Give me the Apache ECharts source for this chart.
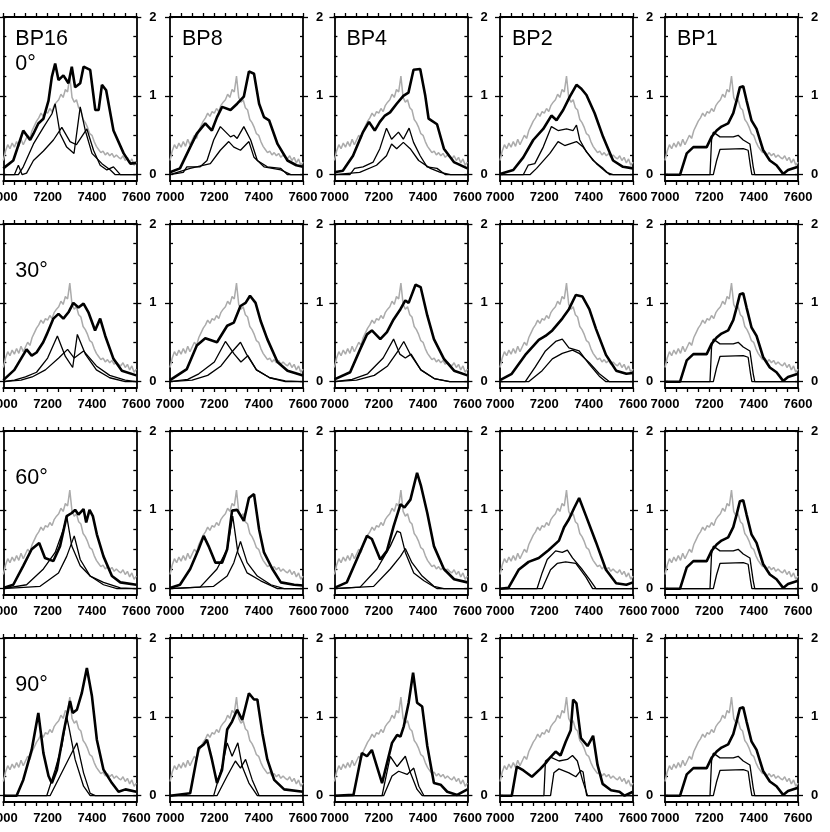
<!DOCTYPE html>
<html><head><meta charset="utf-8">
<script src="https://cdn.jsdelivr.net/npm/echarts@6/dist/echarts.min.js"></script>
<style>html,body{margin:0;padding:0;background:#fff}#c{width:830px;height:832px}</style>
</head><body><div id="c"></div>
<script>
// ---------- DATA ----------
const colTitles = ['BP16', 'BP8', 'BP4', 'BP2', 'BP1'];
const rowTitles = ['0°', '30°', '60°', '90°'];
const xTickLabels = [7000, 7200, 7400, 7600];
const yTickLabels = [0, 1, 2];

const grayWave = [7000,7010,7020,7030,7040,7050,7060,7070,7080,7090,7100,7110,7120,7130,7140,7150,7160,7170,7180,7190,7200,7210,7220,7230,7240,7250,7260,7270,7280,7290,7300,7310,7320,7330,7340,7350,7360,7370,7380,7390,7400,7410,7420,7430,7440,7450,7460,7470,7480,7490,7500,7510,7520,7530,7540,7550,7560,7570,7580,7590,7600];
const grayFlux = [0.18,0.30,0.38,0.33,0.40,0.35,0.42,0.36,0.45,0.38,0.44,0.50,0.46,0.56,0.62,0.68,0.72,0.78,0.74,0.80,0.78,0.84,0.80,0.88,0.92,0.95,1.02,0.98,1.08,1.05,1.25,0.98,0.92,0.95,0.85,0.82,0.70,0.66,0.60,0.52,0.50,0.42,0.36,0.32,0.28,0.30,0.25,0.28,0.24,0.27,0.22,0.25,0.22,0.20,0.24,0.18,0.22,0.15,0.20,0.12,0.16];

// Row 1 (0°)
const bp16_0_thick = [[7000,0.08],[7045,0.18],[7090,0.56],[7121,0.44],[7136,0.52],[7158,0.65],[7181,0.71],[7204,0.94],[7219,1.24],[7234,1.41],[7249,1.2],[7271,1.26],[7294,1.16],[7309,1.37],[7324,1.11],[7347,1.16],[7362,1.37],[7392,1.33],[7415,0.82],[7430,0.82],[7445,1.14],[7464,1.07],[7497,0.56],[7543,0.27],[7573,0.14],[7600,0.15]];
const bp16_0_thinA = [[7000,0],[7068,0],[7090,0.1],[7136,0.39],[7181,0.6],[7219,0.77],[7234,0.9],[7256,0.52],[7286,0.35],[7319,0.27],[7347,0.86],[7370,0.56],[7400,0.27],[7445,0.14],[7483,0.06],[7505,0],[7600,0]];
const bp16_0_thinB = [[7000,0],[7050,0],[7068,0.12],[7085,0],[7105,0.02],[7136,0.18],[7181,0.3],[7226,0.44],[7264,0.6],[7301,0.42],[7330,0.38],[7377,0.58],[7407,0.31],[7437,0.12],[7467,0.06],[7497,0.1],[7528,0],[7600,0]];
const bp8_0_thick = [[7000,0.03],[7045,0.08],[7091,0.35],[7121,0.52],[7159,0.65],[7189,0.56],[7212,0.73],[7235,0.86],[7273,0.82],[7303,0.9],[7333,0.99],[7356,1.31],[7379,1.28],[7402,0.9],[7424,0.73],[7447,0.69],[7485,0.39],[7530,0.18],[7570,0.12],[7600,0.1]];
const bp8_0_thinA = [[7000,0],[7060,0.03],[7076,0.1],[7136,0.1],[7167,0.18],[7197,0.44],[7227,0.61],[7273,0.48],[7288,0.5],[7303,0.46],[7333,0.61],[7364,0.44],[7394,0.18],[7439,0.1],[7500,0.08],[7530,0],[7600,0]];
const bp8_0_thinB = [[7000,0],[7091,0.08],[7182,0.14],[7227,0.31],[7265,0.42],[7288,0.35],[7318,0.31],[7356,0.42],[7379,0.22],[7424,0.1],[7500,0.06],[7545,0],[7600,0]];
const bp4_0_thick = [[7000,0.03],[7038,0.05],[7084,0.24],[7129,0.54],[7156,0.67],[7182,0.56],[7205,0.67],[7228,0.75],[7251,0.79],[7281,0.9],[7311,1.0],[7334,1.04],[7357,1.33],[7387,1.34],[7410,1.0],[7425,0.71],[7463,0.64],[7494,0.33],[7539,0.16],[7600,0.08]];
const bp4_0_thinA = [[7000,0],[7070,0],[7091,0.08],[7129,0.1],[7175,0.16],[7205,0.33],[7235,0.59],[7258,0.45],[7289,0.54],[7311,0.45],[7337,0.59],[7357,0.41],[7387,0.24],[7418,0.1],[7463,0.08],[7501,0],[7600,0]];
const bp4_0_thinB = [[7000,0],[7114,0.03],[7190,0.12],[7235,0.24],[7258,0.39],[7281,0.33],[7311,0.41],[7342,0.33],[7380,0.18],[7433,0.08],[7478,0.03],[7524,0],[7600,0]];
const bp2_0_thick = [[7000,0.01],[7060,0.06],[7105,0.22],[7150,0.44],[7195,0.58],[7232,0.75],[7255,0.69],[7285,0.82],[7315,0.99],[7345,1.14],[7367,1.09],[7390,1.01],[7427,0.78],[7465,0.48],[7510,0.18],[7555,0.1],[7600,0.08]];
const bp2_0_thinA = [[7000,0],[7105,0],[7127,0.12],[7157,0.14],[7195,0.35],[7232,0.61],[7262,0.56],[7300,0.58],[7330,0.56],[7345,0.63],[7360,0.44],[7390,0.29],[7435,0.14],[7480,0.03],[7510,0],[7600,0]];
const bp2_0_thinB = [[7000,0],[7135,0],[7165,0.08],[7225,0.27],[7262,0.42],[7292,0.37],[7345,0.42],[7375,0.35],[7420,0.18],[7465,0.08],[7495,0],[7600,0]];
// BP1 (same at all angles)
const bp1_thick = [[7000,0],[7068,0],[7098,0.27],[7128,0.35],[7188,0.35],[7210,0.48],[7233,0.56],[7255,0.61],[7285,0.65],[7308,0.78],[7323,0.94],[7338,1.11],[7353,1.12],[7368,0.94],[7390,0.69],[7413,0.58],[7443,0.31],[7473,0.18],[7503,0.12],[7533,0.01],[7555,0.06],[7600,0.1]];
const bp1_thinA = [[7000,0],[7203,0],[7210,0.44],[7218,0.54],[7248,0.48],[7308,0.48],[7330,0.5],[7353,0.44],[7383,0.39],[7398,0.1],[7405,0],[7600,0]];
const bp1_thinB = [[7000,0],[7218,0],[7233,0.18],[7248,0.32],[7353,0.33],[7375,0.31],[7386,0.1],[7392,0],[7600,0]];

// Row 2 (30°)
const bp16_30_thick = [[7000,0.02],[7050,0.15],[7105,0.41],[7128,0.33],[7150,0.37],[7180,0.5],[7196,0.6],[7226,0.8],[7249,0.86],[7271,0.8],[7294,0.88],[7316,1.0],[7339,0.94],[7362,0.99],[7384,0.88],[7414,0.65],[7437,0.8],[7460,0.58],[7497,0.29],[7535,0.14],[7600,0.08]];
const bp16_30_thinA = [[7000,0],[7050,0.02],[7100,0.06],[7150,0.12],[7200,0.3],[7244,0.58],[7280,0.32],[7313,0.18],[7334,0.6],[7370,0.35],[7420,0.15],[7480,0.05],[7550,0],[7600,0]];
const bp16_30_thinB = [[7000,0],[7080,0.02],[7130,0.06],[7190,0.15],[7250,0.3],[7290,0.41],[7320,0.3],[7362,0.39],[7420,0.2],[7480,0.08],[7550,0.02],[7600,0]];
const bp8_30_thick = [[7000,0.02],[7076,0.16],[7121,0.46],[7159,0.55],[7212,0.5],[7258,0.71],[7288,0.75],[7318,0.96],[7341,1.0],[7361,1.09],[7386,1.0],[7409,0.77],[7439,0.54],[7485,0.25],[7530,0.14],[7600,0.08]];
const bp8_30_thinA = [[7000,0],[7080,0.03],[7130,0.1],[7200,0.25],[7250,0.51],[7290,0.35],[7320,0.25],[7351,0.33],[7390,0.15],[7450,0.05],[7520,0],[7600,0]];
const bp8_30_thinB = [[7000,0],[7100,0.02],[7170,0.08],[7230,0.2],[7280,0.38],[7318,0.5],[7345,0.35],[7390,0.15],[7450,0.05],[7520,0.01],[7600,0]];
const bp4_30_thick = [[7000,0.03],[7071,0.12],[7116,0.41],[7147,0.6],[7169,0.65],[7207,0.54],[7237,0.63],[7267,0.79],[7298,0.92],[7320,1.03],[7335,1.0],[7366,1.23],[7389,1.2],[7419,0.84],[7449,0.54],[7494,0.29],[7540,0.14],[7600,0.08]];
const bp4_30_thinA = [[7000,0],[7080,0.03],[7150,0.1],[7220,0.3],[7267,0.54],[7295,0.35],[7320,0.3],[7346,0.35],[7390,0.15],[7450,0.04],[7520,0],[7600,0]];
const bp4_30_thinB = [[7000,0],[7100,0.02],[7180,0.08],[7240,0.2],[7285,0.38],[7313,0.51],[7340,0.36],[7390,0.15],[7450,0.04],[7520,0],[7600,0]];
const bp2_30_thick = [[7000,0.02],[7053,0.1],[7114,0.34],[7175,0.53],[7205,0.58],[7236,0.65],[7281,0.8],[7311,0.92],[7342,1.1],[7372,1.08],[7403,0.92],[7433,0.67],[7478,0.34],[7524,0.14],[7570,0.1],[7600,0.11]];
const bp2_30_thinA = [[7000,0],[7114,0],[7160,0.19],[7205,0.39],[7251,0.51],[7281,0.54],[7311,0.43],[7357,0.39],[7403,0.22],[7448,0.07],[7478,0],[7600,0]];
const bp2_30_thinB = [[7000,0],[7129,0],[7190,0.14],[7236,0.29],[7281,0.36],[7327,0.4],[7357,0.36],[7403,0.24],[7448,0.1],[7494,0],[7600,0]];

// Row 3 (60°)
const bp16_60_thick = [[7000,0.01],[7045,0.05],[7090,0.29],[7128,0.5],[7162,0.58],[7188,0.39],[7226,0.35],[7256,0.54],[7286,0.92],[7309,0.96],[7324,1.0],[7339,0.94],[7362,1.01],[7374,0.84],[7389,1.0],[7404,0.92],[7422,0.69],[7452,0.41],[7490,0.16],[7528,0.08],[7600,0.05]];
const bp16_60_thinA = [[7000,0],[7105,0.05],[7181,0.25],[7234,0.46],[7271,0.75],[7286,0.92],[7309,0.54],[7347,0.29],[7392,0.16],[7452,0.08],[7528,0.01],[7600,0]];
const bp16_60_thinB = [[7000,0],[7166,0.03],[7249,0.2],[7286,0.41],[7320,0.67],[7347,0.37],[7392,0.16],[7452,0.05],[7513,0],[7600,0]];
const bp8_60_thick = [[7000,0.01],[7045,0.05],[7091,0.25],[7129,0.5],[7152,0.67],[7174,0.54],[7205,0.33],[7235,0.33],[7258,0.5],[7280,0.99],[7303,1.0],[7333,0.86],[7356,1.15],[7379,1.2],[7402,0.75],[7424,0.46],[7462,0.25],[7500,0.08],[7560,0.05],[7600,0.04]];
const bp8_60_thinA = [[7000,0],[7136,0.02],[7212,0.25],[7258,0.5],[7283,0.92],[7306,0.46],[7348,0.2],[7409,0.1],[7485,0],[7600,0]];
const bp8_60_thinB = [[7000,0],[7197,0.03],[7258,0.16],[7288,0.33],[7318,0.6],[7348,0.33],[7394,0.16],[7455,0.05],[7515,0],[7600,0]];
const bp4_60_thick = [[7000,0.01],[7056,0.08],[7101,0.37],[7147,0.67],[7169,0.63],[7207,0.37],[7237,0.48],[7267,0.79],[7298,1.07],[7316,1.03],[7343,1.13],[7373,1.47],[7391,1.3],[7419,0.96],[7449,0.54],[7494,0.25],[7540,0.12],[7600,0.08]];
const bp4_60_thinA = [[7000,0],[7116,0.02],[7192,0.25],[7252,0.54],[7283,0.73],[7298,0.71],[7320,0.46],[7358,0.2],[7404,0.1],[7464,0],[7600,0]];
const bp4_60_thinB = [[7000,0],[7177,0.03],[7252,0.25],[7298,0.41],[7320,0.51],[7350,0.33],[7396,0.16],[7449,0.03],[7494,0],[7600,0]];
const bp2_60_thick = [[7000,0],[7038,0.01],[7084,0.24],[7129,0.34],[7175,0.39],[7220,0.49],[7266,0.61],[7289,0.78],[7311,0.88],[7334,1.02],[7357,1.15],[7387,0.93],[7433,0.59],[7478,0.24],[7524,0.07],[7570,0.05],[7600,0.08]];
const bp2_60_thinA = [[7000,0],[7167,0],[7190,0.2],[7213,0.37],[7251,0.48],[7281,0.46],[7304,0.49],[7327,0.39],[7372,0.24],[7403,0.12],[7433,0],[7600,0]];
const bp2_60_thinB = [[7000,0],[7190,0],[7228,0.24],[7258,0.32],[7296,0.34],[7342,0.32],[7387,0.15],[7418,0],[7600,0]];

// Row 4 (90°)
const bp16_90_thick = [[7000,0],[7060,0],[7090,0.2],[7128,0.58],[7158,1.05],[7181,0.54],[7204,0.25],[7219,0.16],[7242,0.33],[7271,0.79],[7286,1.0],[7301,1.2],[7313,1.05],[7332,1.09],[7354,1.3],[7377,1.62],[7400,1.26],[7422,0.71],[7452,0.33],[7490,0.16],[7520,0.05],[7551,0.08],[7600,0.05]];
const bp16_90_thinA = [[7000,0],[7196,0],[7234,0.33],[7264,0.63],[7286,1.0],[7298,0.84],[7324,0.46],[7362,0.12],[7392,0],[7600,0]];
const bp16_90_thinB = [[7000,0],[7211,0],[7256,0.25],[7301,0.5],[7332,0.67],[7362,0.29],[7392,0.03],[7415,0],[7600,0]];
const bp8_90_thick = [[7000,0],[7091,0.03],[7129,0.6],[7152,0.65],[7167,0.71],[7189,0.46],[7212,0.16],[7235,0.33],[7258,0.84],[7280,0.94],[7303,1.09],[7326,0.96],[7356,1.3],[7379,1.22],[7394,1.22],[7417,0.79],[7439,0.46],[7470,0.2],[7515,0.08],[7600,0.05]];
const bp8_90_thinA = [[7000,0],[7197,0],[7235,0.37],[7258,0.67],[7280,0.5],[7306,0.67],[7326,0.37],[7356,0.16],[7394,0],[7600,0]];
const bp8_90_thinB = [[7000,0],[7212,0],[7258,0.25],[7295,0.44],[7318,0.35],[7341,0.46],[7371,0.2],[7402,0],[7600,0]];
const bp4_90_thick = [[7000,0],[7086,0.01],[7124,0.54],[7147,0.5],[7169,0.58],[7192,0.37],[7215,0.16],[7237,0.41],[7260,0.67],[7283,0.77],[7298,0.75],[7313,0.88],[7335,1.18],[7355,1.56],[7373,1.18],[7396,1.13],[7419,0.63],[7449,0.16],[7479,0.14],[7509,0.05],[7554,0.01],[7600,0.08]];
const bp4_90_thinA = [[7000,0],[7215,0],[7252,0.5],[7283,0.37],[7320,0.5],[7343,0.29],[7373,0.08],[7396,0],[7600,0]];
const bp4_90_thinB = [[7000,0],[7222,0],[7260,0.25],[7290,0.31],[7328,0.27],[7358,0.35],[7381,0.12],[7404,0],[7600,0]];
const bp2_90_thick = [[7000,0],[7053,0],[7076,0.37],[7106,0.32],[7144,0.24],[7182,0.34],[7205,0.41],[7228,0.49],[7251,0.56],[7273,0.51],[7296,0.68],[7319,0.83],[7330,1.22],[7345,1.17],[7365,0.73],[7395,0.63],[7420,0.76],[7440,0.39],[7463,0.15],[7501,0.07],[7539,0.05],[7562,0],[7600,0.05]];
const bp2_90_thinA = [[7000,0],[7198,0],[7205,0.44],[7228,0.49],[7266,0.44],[7304,0.46],[7327,0.51],[7349,0.44],[7372,0.2],[7395,0],[7600,0]];
const bp2_90_thinB = [[7000,0],[7228,0],[7243,0.29],[7266,0.34],[7311,0.29],[7342,0.24],[7365,0.32],[7375,0.3],[7391,0],[7600,0]];

// ---------- BUILD ----------
const panelData = [
  [[bp16_0_thinA,bp16_0_thinB,bp16_0_thick],[bp8_0_thinA,bp8_0_thinB,bp8_0_thick],[bp4_0_thinA,bp4_0_thinB,bp4_0_thick],[bp2_0_thinA,bp2_0_thinB,bp2_0_thick],[bp1_thinA,bp1_thinB,bp1_thick]],
  [[bp16_30_thinA,bp16_30_thinB,bp16_30_thick],[bp8_30_thinA,bp8_30_thinB,bp8_30_thick],[bp4_30_thinA,bp4_30_thinB,bp4_30_thick],[bp2_30_thinA,bp2_30_thinB,bp2_30_thick],[bp1_thinA,bp1_thinB,bp1_thick]],
  [[bp16_60_thinA,bp16_60_thinB,bp16_60_thick],[bp8_60_thinA,bp8_60_thinB,bp8_60_thick],[bp4_60_thinA,bp4_60_thinB,bp4_60_thick],[bp2_60_thinA,bp2_60_thinB,bp2_60_thick],[bp1_thinA,bp1_thinB,bp1_thick]],
  [[bp16_90_thinA,bp16_90_thinB,bp16_90_thick],[bp8_90_thinA,bp8_90_thinB,bp8_90_thick],[bp4_90_thinA,bp4_90_thinB,bp4_90_thick],[bp2_90_thinA,bp2_90_thinB,bp2_90_thick],[bp1_thinA,bp1_thinB,bp1_thick]]
];
const grayData = grayWave.map((x, i) => [x, grayFlux[i]]);

const COL_LEFT = [3.3, 170, 334.4, 500, 665];
const ROW_TOP = [17, 224, 431, 638];
const W = 133, H = 164;
const YMIN = -0.08, YMAX = 2;
const FONT = 'Liberation Sans';
const quarterTicks = [0,0.25,0.5,0.75,1,1.25,1.5,1.75,2];

const grids = [], xAxes = [], yAxes = [], series = [], graphics = [];
const axisLineStyle = { color: '#000', width: 1.8 };

for (let r = 0; r < 4; r++) {
  for (let c = 0; c < 5; c++) {
    const g = r * 5 + c;
    grids.push({ left: COL_LEFT[c], top: ROW_TOP[r], width: W, height: H, containLabel: false, outerBoundsMode: 'none' });
    // bottom x axis (data)
    xAxes.push({
      type: 'value', gridIndex: g, position: 'bottom', min: 7000, max: 7600, interval: 50,
      axisLine: { show: true, onZero: false, lineStyle: axisLineStyle },
      axisTick: { show: true, inside: false, length: 4, lineStyle: { color: '#000', width: 1.3 } },
      axisLabel: { show: true, interval: 0, showMinLabel: true, showMaxLabel: true, hideOverlap: false,
        margin: 10, color: '#000', fontFamily: FONT, fontWeight: 'bold', fontSize: 13,
        formatter: v => xTickLabels.indexOf(v) >= 0 ? String(v) : '' },
      splitLine: { show: false }
    });
    // top x axis
    xAxes.push({
      type: 'value', gridIndex: g, position: 'top', min: 7000, max: 7600, interval: 50,
      axisLine: { show: true, onZero: false, lineStyle: axisLineStyle },
      axisTick: { show: true, inside: false, length: 4, lineStyle: { color: '#000', width: 1.3 } },
      axisLabel: { show: false }, splitLine: { show: false }
    });
    // left y axis (data), inner ticks
    yAxes.push({
      type: 'value', gridIndex: g, position: 'left', min: YMIN, max: YMAX,
      axisLine: { show: true, onZero: false, lineStyle: axisLineStyle },
      axisTick: { show: true, inside: true, length: 3, customValues: quarterTicks, lineStyle: { color: '#000', width: 1.3 } },
      axisLabel: { show: false }, splitLine: { show: false }
    });
    // left y major outward ticks
    yAxes.push({
      type: 'value', gridIndex: g, position: 'left', min: YMIN, max: YMAX,
      axisLine: { show: false },
      axisTick: { show: true, inside: false, length: 5, customValues: yTickLabels, lineStyle: { color: '#000', width: 1.3 } },
      axisLabel: { show: false }, splitLine: { show: false }
    });
    // right y axis inner ticks
    yAxes.push({
      type: 'value', gridIndex: g, position: 'right', min: YMIN, max: YMAX,
      axisLine: { show: true, onZero: false, lineStyle: axisLineStyle },
      axisTick: { show: true, inside: true, length: 3, customValues: quarterTicks, lineStyle: { color: '#000', width: 1.3 } },
      axisLabel: { show: false }, splitLine: { show: false }
    });
    // right y major outward ticks + labels
    yAxes.push({
      type: 'value', gridIndex: g, position: 'right', min: YMIN, max: YMAX,
      axisLine: { show: false },
      axisTick: { show: true, inside: false, length: 5, customValues: yTickLabels, lineStyle: { color: '#000', width: 1.3 } },
      axisLabel: { show: true, customValues: yTickLabels, margin: 13, color: '#000', fontFamily: FONT, fontWeight: 'bold', fontSize: 13,
        formatter: v => String(v) },
      splitLine: { show: false }
    });

    const xi = 2 * g, yi = 4 * g;
    const common = { type: 'line', xAxisIndex: xi, yAxisIndex: yi, showSymbol: false, symbol: 'none', animation: false, silent: true };
    series.push(Object.assign({}, common, { data: grayData, lineStyle: { color: '#ababab', width: 1.5 }, z: 2 }));
    const [a, b, k] = panelData[r][c];
    series.push(Object.assign({}, common, { data: a, lineStyle: { color: '#000', width: 1.3 }, z: 3 }));
    series.push(Object.assign({}, common, { data: b, lineStyle: { color: '#000', width: 1.3 }, z: 3 }));
    series.push(Object.assign({}, common, { data: k, lineStyle: { color: '#000', width: 2.6 }, z: 4 }));

    if (r === 0) {
      graphics.push({ type: 'text', left: COL_LEFT[c] + 12, top: ROW_TOP[r] + 11,
        style: { text: colTitles[c], fontFamily: FONT, fontSize: 21.5, fill: '#000' } });
    }
    if (c === 0) {
      graphics.push({ type: 'text', left: COL_LEFT[c] + 12, top: ROW_TOP[r] + 36,
        style: { text: rowTitles[r], fontFamily: FONT, fontSize: 21.5, fill: '#000' } });
    }
  }
}

const chart = echarts.init(document.getElementById('c'), null, { renderer: 'canvas' });
chart.setOption({
  backgroundColor: '#fff',
  animation: false,
  grid: grids, xAxis: xAxes, yAxis: yAxes, series: series, graphic: graphics
});
</script>
</body></html>
